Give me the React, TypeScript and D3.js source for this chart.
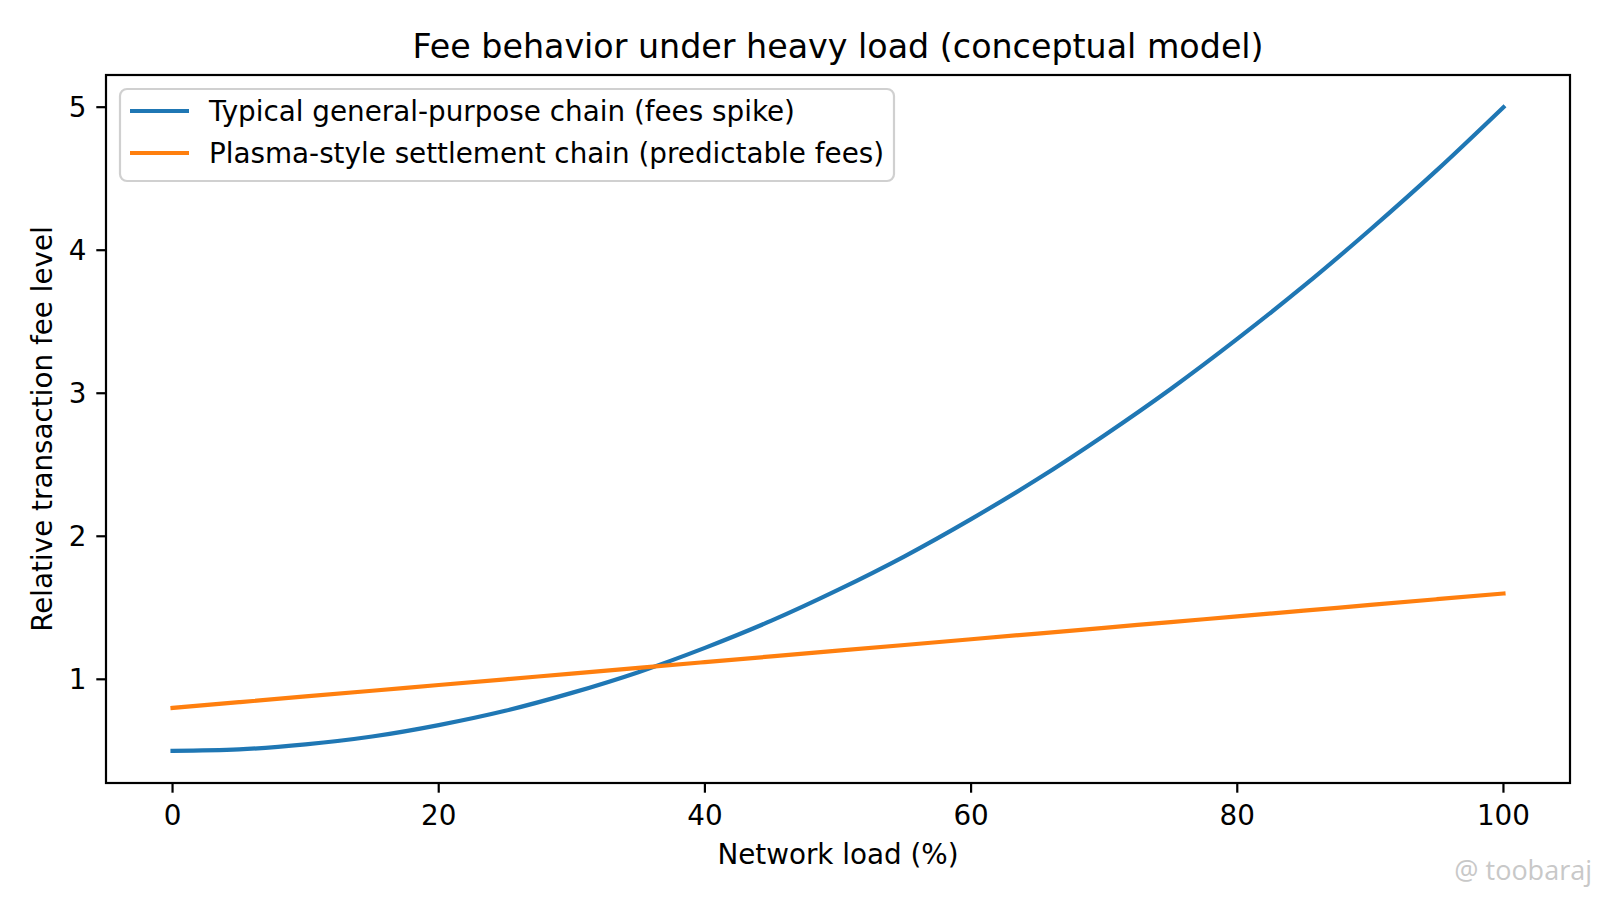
import * as React from 'react';
import * as d3 from 'd3';

// values
const loadPct = [0, 5, 10, 15, 20, 25, 30, 35, 40, 45, 50, 55, 60, 65, 70, 75, 80, 85, 90, 95, 100];
const typicalFees = [0.5, 0.51, 0.545, 0.6, 0.68, 0.78, 0.905, 1.05, 1.22, 1.41, 1.625, 1.86, 2.12, 2.4, 2.705, 3.03, 3.38, 3.75, 4.145, 4.56, 5.0];
const plasmaFees = [0.8, 0.84, 0.88, 0.92, 0.96, 1.0, 1.04, 1.08, 1.12, 1.16, 1.2, 1.24, 1.28, 1.32, 1.36, 1.4, 1.44, 1.48, 1.52, 1.56, 1.6];
const xTicks = [0, 20, 40, 60, 80, 100];
const yTicks = [1, 2, 3, 4, 5];
const seriesNames = ['Typical general-purpose chain (fees spike)', 'Plasma-style settlement chain (predictable fees)'];
const seriesColors = ['#1f77b4', '#ff7f0e'];

const W = 1600;
const H = 900;
const margin = { top: 75, right: 30, bottom: 117, left: 106 };
const font = '"DejaVu Sans", Verdana, sans-serif';
const fs = 27.8; // 10pt at 200dpi

export default function App() {
  const plotW = W - margin.left - margin.right;
  const plotH = H - margin.top - margin.bottom;

  const x = d3.scaleLinear().domain([-5, 105]).range([0, plotW]);
  const y = d3.scaleLinear().domain([0.275, 5.225]).range([plotH, 0]);

  const line = d3.line<number>()
    .x((_, i) => x(loadPct[i]))
    .y((v) => y(v))
    .curve(d3.curveMonotoneX);

  const series = [typicalFees, plasmaFees];

  return (
    <svg width={W} height={H} style={{ position: 'absolute', left: 0, top: 0, background: '#fff' }} fontFamily={font}>
      <text x={margin.left + plotW / 2} y={58} textAnchor="middle" fontSize={33.3} fill="#000">
        Fee behavior under heavy load (conceptual model)
      </text>
      <g transform={`translate(${margin.left},${margin.top})`}>
        {series.map((s, i) => (
          <path key={i} d={line(s) as string} fill="none" stroke={seriesColors[i]} strokeWidth={4.2} strokeLinecap="square" />
        ))}
        <rect x={0} y={0} width={plotW} height={plotH} fill="none" stroke="#000" strokeWidth={2.2} />
        {xTicks.map((t) => (
          <g key={t} transform={`translate(${x(t)},${plotH})`}>
            <line y2={9.7} stroke="#000" strokeWidth={2.2} />
            <text y={42} textAnchor="middle" fontSize={fs} fill="#000">{t}</text>
          </g>
        ))}
        {yTicks.map((t) => (
          <g key={t} transform={`translate(0,${y(t)})`}>
            <line x2={-9.7} stroke="#000" strokeWidth={2.2} />
            <text x={-19.5} dy="0.36em" textAnchor="end" fontSize={fs} fill="#000">{t}</text>
          </g>
        ))}
        <text x={plotW / 2} y={plotH + 81} textAnchor="middle" fontSize={fs} fill="#000">Network load (%)</text>
        <text transform={`translate(${52 - margin.left},${plotH / 2}) rotate(-90)`} textAnchor="middle" fontSize={fs} fill="#000">
          Relative transaction fee level
        </text>
        <g transform="translate(14,14)">
          <rect x={0} y={0} width={774} height={92} rx={7} fill="#fff" fillOpacity={0.8} stroke="#d0d0d0" strokeWidth={2.2} />
          {seriesNames.map((n, i) => (
            <g key={n} transform={`translate(0,${22 + i * 42})`}>
              <line x1={10} x2={69} stroke={seriesColors[i]} strokeWidth={4.2} />
              <text x={89} dy="0.36em" fontSize={fs} fill="#000">{n}</text>
            </g>
          ))}
        </g>
      </g>
      <text x={1592} y={880} textAnchor="end" fontSize={27} fill="#c8c8c8" fontFamily='"Open Sans", sans-serif'>@ toobaraj</text>
    </svg>
  );
}
